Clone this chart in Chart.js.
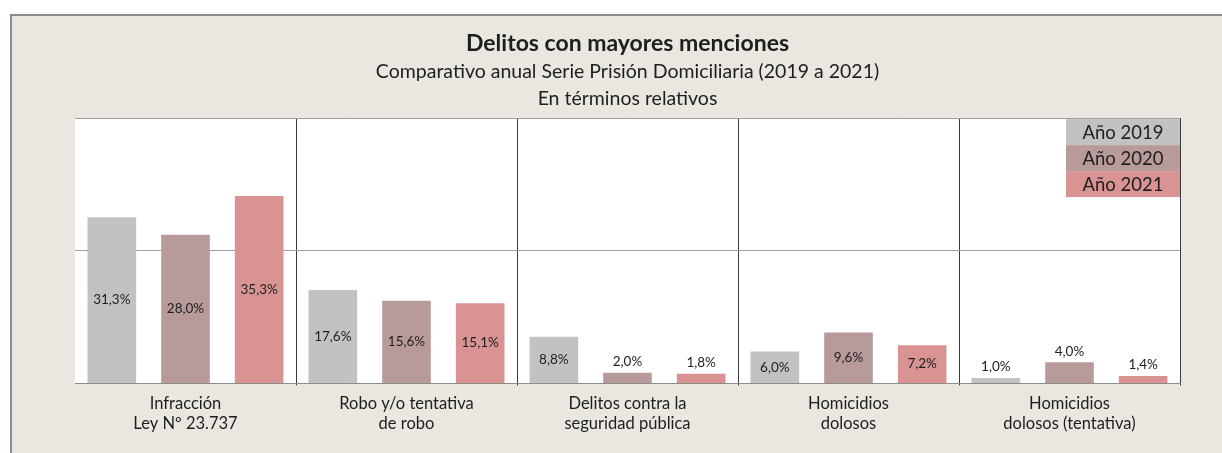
<!DOCTYPE html>
<html>
<head>
<meta charset="utf-8">
<script src="https://cdn.jsdelivr.net/npm/chart.js@4/dist/chart.umd.min.js"></script>
<style>
  html, body { margin: 0; padding: 0; background: #ffffff; }
  #wrap { position: relative; width: 1222px; height: 453px; }
</style>
</head>
<body>
<div id="wrap"><canvas id="chart" width="1222" height="453"></canvas></div>
<script>
const CATEGORIES = [
    ["Infracción", "Ley Nº 23.737"],
    ["Robo y/o tentativa", "de robo"],
    ["Delitos contra la", "seguridad pública"],
    ["Homicidios", "dolosos"],
    ["Homicidios", "dolosos (tentativa)"]
];
const SERIES_LABELS = ["Año 2019", "Año 2020", "Año 2021"];
const VALUES_2019 = [31.3, 17.6, 8.8, 6.0, 1.0];
const VALUES_2020 = [28.0, 15.6, 2.0, 9.6, 4.0];
const VALUES_2021 = [35.3, 15.1, 1.8, 7.2, 1.4];
const COLORS = ["#C3C1C2", "#B89A9B", "#D99393"];

const FONT = "Lato, 'Open Sans', sans-serif";
const TEXT_COLOR = "#1e1e1e";

// frame + white plot background
const backgroundPlugin = {
    id: "bg",
    beforeDraw(chart) {
        const ctx = chart.ctx;
        const area = chart.chartArea;
        ctx.save();
        ctx.fillStyle = "#ffffff";
        ctx.fillRect(0, 0, chart.width, chart.height);
        ctx.fillStyle = "#EAE6E0";
        ctx.fillRect(10, 14, chart.width - 10, chart.height - 14);
        ctx.strokeStyle = "#8c8c8c";
        ctx.lineWidth = 2;
        ctx.beginPath();
        ctx.moveTo(11, chart.height);
        ctx.lineTo(11, 15);
        ctx.lineTo(chart.width, 15);
        ctx.stroke();
        ctx.fillStyle = "#ffffff";
        ctx.fillRect(area.left, area.top, area.right - area.left, area.bottom - area.top);
        ctx.restore();
    }
};

// value labels, centred in the bar or just above short ones
const valueLabelPlugin = {
    id: "valueLabels",
    afterDatasetsDraw(chart) {
        const ctx = chart.ctx;
        ctx.save();
        ctx.font = "13.5px " + FONT;
        ctx.fillStyle = TEXT_COLOR;
        ctx.textAlign = "center";
        ctx.textBaseline = "middle";
        chart.data.datasets.forEach((ds, di) => {
            chart.getDatasetMeta(di).data.forEach((bar, i) => {
                const v = ds.data[i];
                const text = v.toFixed(1).replace(".", ",") + "%";
                const y = v < 5 ? bar.y - 11 : (bar.y + bar.base) / 2;
                ctx.fillText(text, bar.x, y);
            });
        });
        ctx.restore();
    }
};

// legend drawn as coloured boxes with the text inside
const boxLegendPlugin = {
    id: "boxLegend",
    afterDraw(chart) {
        const ctx = chart.ctx;
        const area = chart.chartArea;
        const w = 114, h = 26;
        const x = area.right - w;
        let y = area.top + 1;
        ctx.save();
        ctx.font = "18.5px " + FONT;
        ctx.textAlign = "center";
        ctx.textBaseline = "middle";
        chart.data.datasets.forEach((ds) => {
            ctx.fillStyle = ds.backgroundColor;
            ctx.fillRect(x, y, w, h);
            ctx.fillStyle = TEXT_COLOR;
            ctx.fillText(ds.label, x + w / 2, y + h / 2 + 1);
            y += h;
        });
        ctx.restore();
    }
};

const lastIndex = CATEGORIES.length;

new Chart(document.getElementById("chart"), {
    type: "bar",
    data: {
        labels: CATEGORIES,
        datasets: [
            {label: SERIES_LABELS[0], data: VALUES_2019, backgroundColor: COLORS[0]},
            {label: SERIES_LABELS[1], data: VALUES_2020, backgroundColor: COLORS[1]},
            {label: SERIES_LABELS[2], data: VALUES_2021, backgroundColor: COLORS[2]}
        ]
    },
    options: {
        responsive: false,
        animation: false,
        devicePixelRatio: 1,
        layout: {padding: {left: 75, right: 42, top: 30, bottom: 11}},
        categoryPercentage: 1.0,
        barPercentage: 0.66,
        plugins: {
            legend: {display: false},
            tooltip: {enabled: false},
            title: {
                display: true,
                text: "Delitos con mayores menciones",
                color: TEXT_COLOR,
                font: {family: FONT, size: 23, weight: "bold", lineHeight: 1.2},
                padding: {top: 0, bottom: 1}
            },
            subtitle: {
                display: true,
                text: ["Comparativo anual Serie Prisión Domiciliaria (2019 a 2021)", "En términos relativos"],
                color: TEXT_COLOR,
                font: {family: FONT, size: 19.5, lineHeight: 1.385},
                padding: {top: 0, bottom: 5.5}
            }
        },
        scales: {
            x: {
                grid: {
                    offset: true,
                    color: (c) => (c.index === 0 || c.index >= lastIndex) ? "rgba(0,0,0,0)" : "#3a3a3a",
                    lineWidth: 1,
                    tickLength: 2
                },
                border: {display: true, color: "#8c8c8c"},
                ticks: {
                    color: TEXT_COLOR,
                    font: {family: FONT, size: 16.5, lineHeight: 1.23},
                    padding: 8,
                    maxRotation: 0
                }
            },
            y: {
                min: 0,
                max: 50,
                ticks: {display: false, stepSize: 25},
                grid: {color: "#a0a0a0", drawTicks: false},
                border: {display: false}
            }
        }
    },
    plugins: [backgroundPlugin, valueLabelPlugin, boxLegendPlugin]
});
</script>
</body>
</html>
